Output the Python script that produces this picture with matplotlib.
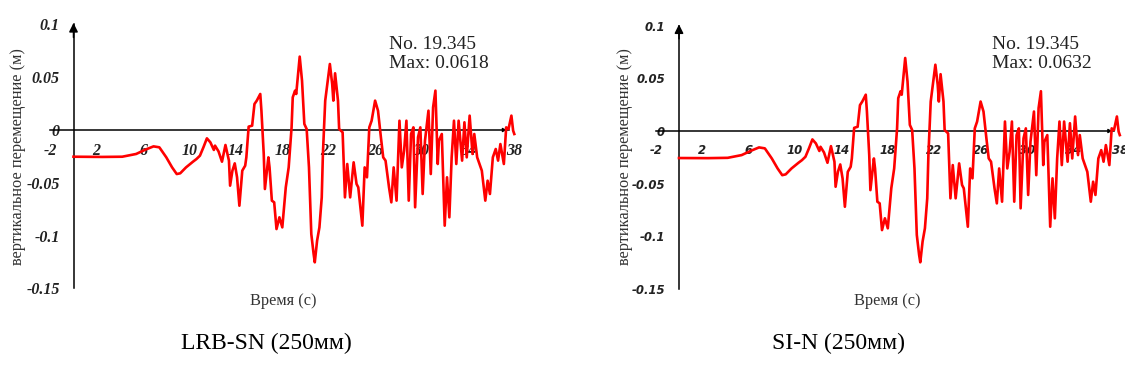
import numpy as np
import matplotlib
matplotlib.use('Agg')
import matplotlib.pyplot as plt

# data
# ----
time_s = [0, 2.5, 4.2, 5.4, 6.2, 6.9, 7.4, 8.0, 8.5, 8.9, 9.2, 9.7, 10.3, 10.6, 10.9,
          11.2, 11.5, 11.8, 12.1, 12.2, 12.5, 12.8, 13.1, 13.4, 13.5, 13.7, 13.9,
          14.1, 14.3, 14.55, 14.8, 14.9, 15.1, 15.4, 15.6, 15.8, 16.1, 16.2, 16.4,
          16.5, 16.8, 16.9, 17.1, 17.3, 17.5, 17.75, 18.0, 18.15, 18.3, 18.55, 18.8,
          18.9, 19.1, 19.2, 19.5, 19.7, 19.9, 20.1, 20.3, 20.5, 20.7, 20.8, 21.0,
          21.2, 21.4, 21.5, 21.7, 22.1, 22.3, 22.4, 22.55, 22.8, 22.9, 23.2, 23.4,
          23.6, 23.85, 24.15, 24.4, 24.55, 24.9, 25.1, 25.3, 25.5, 25.7, 26.0, 26.25,
          26.5, 26.7, 26.9, 27.2, 27.4, 27.6, 27.85, 28.1, 28.3, 28.5, 28.7, 28.9,
          29.1, 29.3, 29.45, 29.7, 29.9, 30.1, 30.3, 30.6, 30.8, 31.0, 31.2, 31.4,
          31.5, 31.75, 32.0, 32.2, 32.4, 32.6, 32.8, 33.0, 33.2, 33.5, 33.7, 33.9,
          34.15, 34.4, 34.55, 34.8, 34.9, 35.2, 35.5, 35.7, 35.9, 36.15, 36.4, 36.6,
          36.8, 37.1, 37.3, 37.5, 37.75, 37.9, 38.0]

disp_lrb = [-0.0253, -0.0255, -0.0253, -0.0227, -0.0186, -0.0155, -0.0164, -0.0259,
            -0.0354, -0.0417, -0.0410, -0.0354, -0.0300, -0.0275, -0.0243, -0.0164,
            -0.0079, -0.0117, -0.0189, -0.0148, -0.0202, -0.0300, -0.0142, -0.0290,
            -0.0527, -0.0385, -0.0316, -0.0448, -0.0717, -0.0385, -0.0338, -0.0259,
            0.0032, 0.0041, 0.0246, 0.0278, 0.0341, 0.0183, -0.0227, -0.0559, -0.0259,
            -0.0354, -0.0669, -0.0685, -0.0938, -0.0827, -0.0922, -0.0732, -0.0543,
            -0.0354, 0.0025, 0.0309, 0.0373, 0.0341, 0.0695, 0.0467, 0.0057, 0.0009,
            -0.0354, -0.0985, -0.1174, -0.1253, -0.1048, -0.0922, -0.0638, -0.0227,
            0.0278, 0.0625, 0.0436, 0.0278, 0.0537, 0.0278, 0.0009, -0.0022, -0.0638,
            -0.0322, -0.0638, -0.0306, -0.0511, -0.0543, -0.0906, -0.0354, -0.0448,
            0.0025, 0.0088, 0.0278, 0.0183, -0.0069, -0.0259, -0.0290, -0.0543,
            -0.0685, -0.0354, -0.0669, 0.0088, -0.0354, -0.0196, 0.0088, -0.0669,
            -0.0038, 0.0025, -0.0732, -0.0069, 0.0025, -0.0606, -0.0101, 0.0183,
            -0.0417, 0.0215, 0.0373, -0.0322, -0.0101, -0.0038, -0.0906, -0.0448,
            -0.0827, -0.0259, 0.0088, -0.0322, 0.0088, -0.0290, 0.0073, -0.0259,
            0.0136, -0.0227, -0.0038, -0.0259, -0.0290, -0.0385, -0.0669, -0.0480,
            -0.0606, -0.0259, -0.0180, -0.0290, -0.0133, -0.0322, 0.0025, 0.0009,
            0.0136, -0.0006, -0.0038]

disp_sin = [-0.0257, -0.0258, -0.0255, -0.0229, -0.0188, -0.0156, -0.0165, -0.0261,
            -0.0356, -0.0420, -0.0412, -0.0356, -0.0302, -0.0277, -0.0245, -0.0166,
            -0.0080, -0.0118, -0.0190, -0.0150, -0.0204, -0.0302, -0.0144, -0.0292,
            -0.0530, -0.0388, -0.0318, -0.0450, -0.0720, -0.0388, -0.0340, -0.0261,
            0.0030, 0.0040, 0.0246, 0.0280, 0.0345, 0.0185, -0.0229, -0.0562, -0.0261,
            -0.0356, -0.0672, -0.0688, -0.0942, -0.0830, -0.0925, -0.0735, -0.0545,
            -0.0356, 0.0025, 0.0312, 0.0378, 0.0345, 0.0694, 0.0470, 0.0058, 0.0009,
            -0.0356, -0.0988, -0.1178, -0.1248, -0.1050, -0.0925, -0.0640, -0.0229,
            0.0280, 0.0630, 0.0440, 0.0280, 0.0540, 0.0280, 0.0009, -0.0023, -0.0640,
            -0.0324, -0.0640, -0.0308, -0.0513, -0.0545, -0.0910, -0.0356, -0.0450,
            0.0025, 0.0090, 0.0280, 0.0185, -0.0070, -0.0261, -0.0292, -0.0545,
            -0.0688, -0.0356, -0.0672, 0.0090, -0.0356, -0.0198, 0.0090, -0.0672,
            -0.0039, 0.0025, -0.0735, -0.0070, 0.0025, -0.0608, -0.0102, 0.0185,
            -0.0420, 0.0218, 0.0378, -0.0324, -0.0102, -0.0039, -0.0910, -0.0450,
            -0.0830, -0.0261, 0.0090, -0.0324, 0.0090, -0.0292, 0.0074, -0.0261,
            0.0138, -0.0229, -0.0039, -0.0261, -0.0292, -0.0388, -0.0672, -0.0482,
            -0.0608, -0.0261, -0.0182, -0.0292, -0.0134, -0.0324, 0.0025, 0.0009,
            0.0138, -0.0006, -0.0039]

xTicks = [-2, 2, 6, 10, 14, 18, 22, 26, 30, 34, 38]
yTicks = [0.1, 0.05, 0, -0.05, -0.1, -0.15]
yTickLabels = ['0.1', '0.05', '0', '-0.05', '-0.1', '-0.15']
maxValues = ['0.0618', '0.0632']
captions = ['LRB-SN (250мм)', 'SI-N (250мм)']

W, H = 1125, 381
serif = 'Liberation Serif'

# functions
# ---------
def makeAxes(fig, x0px, yZeroPx, pxPerSec, pxPer005):
    # place the axes so that data units land on the reference pixels
    xl, xr = -4, 40
    yb, yt = -0.16, 0.11
    left = x0px + xl*pxPerSec
    right = x0px + xr*pxPerSec
    top = yZeroPx - yt/0.05*pxPer005
    bottom = yZeroPx - yb/0.05*pxPer005
    ax = fig.add_axes([left/W, 1-bottom/H, (right-left)/W, (bottom-top)/H])
    ax.set_xlim(xl, xr)
    ax.set_ylim(yb, yt)
    ax.patch.set_visible(False)
    return ax

def styleAxes(ax, tickFont, tickSize, xPad, yPad):
    for s in ['top', 'right']:
        ax.spines[s].set_visible(False)
    ax.spines['left'].set_position(('data', 0))
    ax.spines['bottom'].set_position(('data', 0))
    ax.spines['left'].set_bounds(-0.15, 0.1)
    ax.spines['bottom'].set_bounds(-2.0, 37.5)
    ax.spines['left'].set_linewidth(1.1)
    ax.spines['bottom'].set_linewidth(1.1)
    ax.set_xticks(xTicks)
    ax.set_xticklabels([str(t) for t in xTicks])
    ax.set_yticks(yTicks)
    ax.set_yticklabels(yTickLabels)
    ax.tick_params(axis='both', length=0, colors='#222222')
    ax.tick_params(axis='x', pad=xPad)
    ax.tick_params(axis='y', pad=yPad)
    for lab in ax.get_xticklabels() + ax.get_yticklabels():
        lab.set_family(tickFont)
        lab.set_fontsize(tickSize)
        lab.set_fontweight('bold')
        lab.set_fontstyle('italic')
    # arrow heads
    ax.annotate('', xy=(0, 0.104), xytext=(0, 0.085),
                arrowprops=dict(arrowstyle='-|>', color='black', lw=1.1, mutation_scale=13))
    ax.annotate('', xy=(37.6, 0), xytext=(37.0, 0),
                arrowprops=dict(arrowstyle='-|>', color='black', lw=0.8, mutation_scale=6))

def drawPanel(fig, x0px, yZeroPx, pxPerSec, pxPer005, disp, tickFont, tickSize,
              maxTxt, caption, annX, ylabX, ylabSize, timeX, capX):
    ax = makeAxes(fig, x0px, yZeroPx, pxPerSec, pxPer005)
    styleAxes(ax, tickFont, tickSize, 9, 10)
    ax.plot(time_s, disp, color='#ff0000', linewidth=1.9, solid_joinstyle='round', zorder=3)
    fig.text(annX/W, 1-36/H, 'No. 19.345\nMax: ' + maxTxt, family=serif, fontsize=14,
             va='top', ha='left', color='#222222', linespacing=1.15)
    fig.text(ylabX/W, 1-157/H, 'вертикальное перемещение (м)', family=serif, fontsize=ylabSize,
             rotation=90, va='center', ha='center', color='#333333')
    fig.text(timeX/W, 1-301/H, 'Время (с)', family=serif, fontsize=11.8,
             va='center', ha='center', color='#333333')
    fig.text(capX/W, 1-343/H, caption, family=serif, fontsize=17,
             va='center', ha='center', color='black')
    return ax

# main
# ----
fig = plt.figure(figsize=(W/100, H/100), dpi=100)
fig.patch.set_facecolor('white')

drawPanel(fig, 73.5, 130, 11.6, 52.8, disp_lrb, serif, 11.5,
          maxValues[0], captions[0], 389, 18, 11.8, 283, 266)
drawPanel(fig, 679, 131, 11.6, 52.6, disp_sin, 'DejaVu Sans', 8.4,
          maxValues[1], captions[1], 992, 625, 11.8, 887, 838)

fig.savefig('out.png', dpi=100)
